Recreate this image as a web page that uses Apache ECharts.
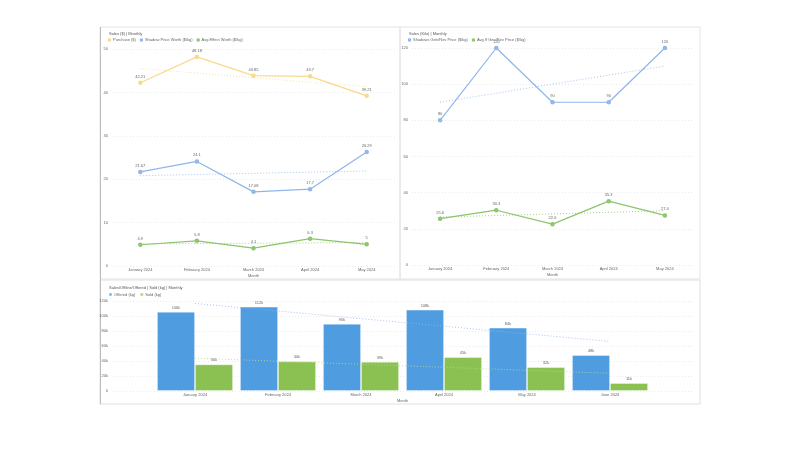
<!DOCTYPE html>
<html>
<head>
<meta charset="utf-8">
<script src="https://cdn.jsdelivr.net/npm/echarts@6/dist/echarts.min.js"></script>
<style>
html, body { margin: 0; padding: 0; background: #fff; }
#chart { width: 800px; height: 464px; }
</style>
</head>
<body>
<div id="chart"></div>
<script>
// months
var months5 = ['January 2024', 'February 2024', 'March 2024', 'April 2024', 'May 2024'];
var months6 = ['January 2024', 'February 2024', 'March 2024', 'April 2024', 'May 2024', 'June 2024'];

// top left - sales ($)
var purchase = [42.21, 48.18, 43.85, 43.7, 39.21];
var shadowWorth = [21.67, 24.1, 17.08, 17.7, 26.29];
var avgWorth = [4.9, 5.8, 4.1, 6.3, 5.0];
var purchaseTrend = [45.5, 41.3];
var shadowTrend = [20.8, 21.9];
var avgTrend = [5.1, 5.4];

// top right - sales (kilo)
var genPrice = [80, 120, 90, 90, 120];
var avgGenPrice = [25.6, 30.3, 22.6, 35.3, 27.4];
var genTrend = [90, 110];
var avgGenTrend = [26.5, 30.0];

// bottom - offered / sold
var offered = [105700, 112400, 89700, 108400, 84400, 48000];
var sold = [35500, 39500, 39000, 45300, 32000, 10700];
var offeredTrend = [116700, 66100];
var soldTrend = [43700, 23600];

var YELLOW = '#f9d98c', BLUE = '#8fb6ea', GREEN = '#8cc46a';
var BAR_BLUE = '#4f9de0', BAR_GREEN = '#8bc152';
var FS = 4;
var TXT = '#666';

function lineSeries(name, data, color, xi) {
	return {
		name: name, type: 'line', xAxisIndex: xi, yAxisIndex: xi, data: data,
		symbol: 'emptyCircle', symbolSize: 2.5,
		lineStyle: { color: color, width: 1.2 },
		itemStyle: { color: color },
		label: { show: true, position: 'top', fontSize: FS, color: TXT, distance: 2 }
	};
}
function trendSeries(cats, ends, color, xi) {
	return {
		type: 'line', xAxisIndex: xi, yAxisIndex: xi, silent: true, symbol: 'none',
		data: [[cats[0], ends[0]], [cats[cats.length - 1], ends[1]]],
		lineStyle: { color: color, width: 1, type: [1, 2], opacity: 0.8 }
	};
}
function trendIdx(n, ends, color, xi) {
	return {
		type: 'line', xAxisIndex: xi, yAxisIndex: xi, silent: true, symbol: 'none',
		data: [[0, ends[0]], [n - 1, ends[1]]],
		lineStyle: { color: color, width: 1, type: [1, 2], opacity: 0.8 }
	};
}
function barSeries(name, data, color) {
	return {
		name: name, type: 'bar', xAxisIndex: 2, yAxisIndex: 2, barWidth: 38, barGap: '0%',
		data: data.map(function (v, i) { return [i, v]; }),
		itemStyle: { color: color, borderColor: 'rgba(255,255,255,0.5)', borderWidth: 0.8 },
		label: {
			show: true, position: 'top', fontSize: FS, color: TXT, distance: 2,
			formatter: function (p) { return Math.round(p.value[1] / 1000) + 'k'; }
		}
	};
}
function yAx(gi, max, interval, fmt) {
	return {
		gridIndex: gi, type: 'value', min: 0, max: max, interval: interval,
		axisLine: { show: false }, axisTick: { show: false },
		axisLabel: { fontSize: FS, color: TXT, margin: 4, formatter: fmt },
		splitLine: { lineStyle: { color: '#e6e6e6', type: [1, 2], width: 0.8 } }
	};
}
function xCat(gi, cats) {
	return {
		gridIndex: gi, type: 'category', data: cats,
		axisLine: { show: false }, axisTick: { show: false },
		axisLabel: { fontSize: FS, color: TXT, margin: 2 },
		name: 'Month', nameLocation: 'middle', nameGap: 8,
		nameTextStyle: { fontSize: FS, color: TXT }
	};
}

var chart = echarts.init(document.getElementById('chart'));
var option = {
	animation: false,
	backgroundColor: '#fff',
	graphic: [
		{ type: 'rect', shape: { x: 100, y: 27, width: 300, height: 252 }, style: { fill: 'none', stroke: '#e4e4e4', lineWidth: 1 } },
		{ type: 'rect', shape: { x: 400, y: 27, width: 300, height: 252 }, style: { fill: 'none', stroke: '#e4e4e4', lineWidth: 1 } },
		{ type: 'rect', shape: { x: 100, y: 280, width: 600, height: 124 }, style: { fill: 'none', stroke: '#e0e0e0', lineWidth: 1 } },
		{ type: 'line', shape: { x1: 100.5, y1: 27, x2: 100.5, y2: 404 }, style: { stroke: '#bdbdbd', lineWidth: 1 } }
	],
	title: [
		{ text: 'Sales ($) | Monthly', left: 104, top: 27, textStyle: { fontSize: FS, color: '#555', fontWeight: 'normal' } },
		{ text: 'Sales (Kilo) | Monthly', left: 404, top: 27, textStyle: { fontSize: FS, color: '#555', fontWeight: 'normal' } },
		{ text: 'Sales/Offline/Offered | Sold (kg) | Monthly', left: 104, top: 281, textStyle: { fontSize: FS, color: '#555', fontWeight: 'normal' } }
	],
	legend: [
		{ left: 103, top: 33, itemWidth: 3, itemHeight: 3, itemGap: 4, icon: 'rect',
		  textStyle: { fontSize: FS, color: TXT, padding: [0, 0, 0, -3] },
		  data: ['Purchase ($)', 'Shadow Price Worth ($/kg)', 'Avg Effect Worth ($/kg)'] },
		{ left: 403, top: 33, itemWidth: 3, itemHeight: 3, itemGap: 4, icon: 'rect',
		  textStyle: { fontSize: FS, color: TXT, padding: [0, 0, 0, -3] },
		  data: ['Shadows Gen/Rev Price ($/kg)', 'Avg If Gen/Rev Price ($/kg)'] },
		{ left: 103, top: 287, itemWidth: 3, itemHeight: 3, itemGap: 4, icon: 'rect',
		  textStyle: { fontSize: FS, color: TXT, padding: [0, 0, 0, -3] },
		  data: ['Offered (kg)', 'Sold (kg)'] }
	],
	grid: [
		{ left: 112, top: 49, width: 283, height: 217 },
		{ left: 412, top: 48, width: 281, height: 217 },
		{ left: 112, top: 301, width: 581, height: 90 }
	],
	xAxis: [
		xCat(0, months5),
		xCat(1, months5),
		{
			gridIndex: 2, type: 'value', min: -1, max: 6, interval: 1,
			axisLine: { show: false }, axisTick: { show: false }, splitLine: { show: false },
			axisLabel: { fontSize: FS, color: TXT, margin: 2, formatter: function (v) { return months6[v] || ''; } },
			name: 'Month', nameLocation: 'middle', nameGap: 8,
			nameTextStyle: { fontSize: FS, color: TXT }
		}
	],
	yAxis: [
		yAx(0, 50, 10),
		yAx(1, 120, 20),
		yAx(2, 120000, 20000, function (v) { return v === 0 ? '0' : (v / 1000) + 'k'; })
	],
	series: [
		lineSeries('Purchase ($)', purchase, YELLOW, 0),
		lineSeries('Shadow Price Worth ($/kg)', shadowWorth, BLUE, 0),
		lineSeries('Avg Effect Worth ($/kg)', avgWorth, GREEN, 0),
		trendSeries(months5, purchaseTrend, YELLOW, 0),
		trendSeries(months5, shadowTrend, BLUE, 0),
		trendSeries(months5, avgTrend, GREEN, 0),

		lineSeries('Shadows Gen/Rev Price ($/kg)', genPrice, BLUE, 1),
		lineSeries('Avg If Gen/Rev Price ($/kg)', avgGenPrice, GREEN, 1),
		trendSeries(months5, genTrend, BLUE, 1),
		trendSeries(months5, avgGenTrend, GREEN, 1),

		barSeries('Offered (kg)', offered, BAR_BLUE),
		barSeries('Sold (kg)', sold, BAR_GREEN),
		trendIdx(months6.length, offeredTrend, BLUE, 2),
		trendIdx(months6.length, soldTrend, '#b9d98a', 2)
	]
};
chart.setOption(option);
</script>
</body>
</html>
